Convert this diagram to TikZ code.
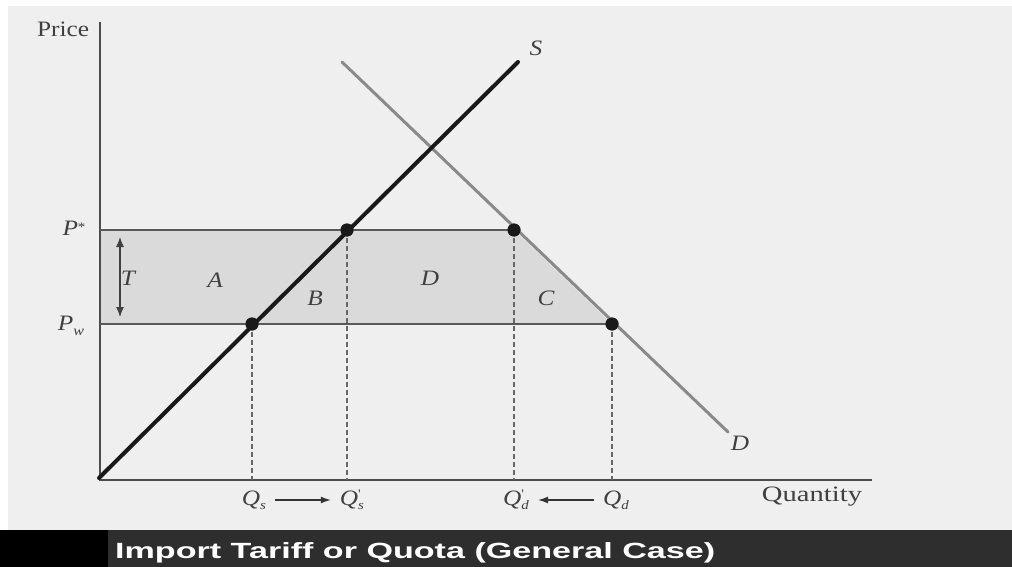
\documentclass[tikz,border=0pt]{standalone}
\usepackage{fontspec}
\setmainfont{Liberation Serif}
\newfontfamily\barfont{Liberation Sans}
\usetikzlibrary{arrows.meta}
\definecolor{bgc}{HTML}{EFEFEF}
\definecolor{shadec}{HTML}{DADADA}
\definecolor{barc}{HTML}{2E2E2E}
\definecolor{demc}{HTML}{8A8A8A}
\newcommand{\wide}[1]{\scalebox{1.15}[1]{#1}}
\newcommand{\subsm}[1]{\raisebox{-4pt}{\fontsize{13}{13}\selectfont #1}}
\newcommand{\primesm}{\rlap{\raisebox{7pt}{\normalfont\fontsize{13}{13}\selectfont\textquotesingle}}}
\tikzset{
  axis/.style={draw=black!70, line width=1.8pt},
  supply/.style={draw=black!90, line width=4pt},
  demand/.style={draw=demc, line width=3pt},
  price/.style={draw=black!65, line width=1.5pt},
  guide/.style={draw=black!60, dash pattern=on 5pt off 3pt, line width=1.4pt},
  dot/.style={circle, fill=black!90, inner sep=0pt, minimum size=13pt},
  lbl/.style={font=\fontsize{22}{22}\selectfont\itshape, text=black!75, inner sep=0pt},
  axlbl/.style={font=\fontsize{22}{22}\selectfont, text=black!75, inner sep=0pt},
  qarrow/.style={draw=black!80, line width=1.3pt, -{Latex[length=10pt,width=7pt]}}
}
\begin{document}
\begin{tikzpicture}[x=1pt,y=-1pt]
\useasboundingbox (0,0) rectangle (1012,567);
\fill[white] (0,0) rectangle (1012,567);
\fill[bgc] (8,6) rectangle (1012,530);
\fill[barc] (0,530) rectangle (1012,567);
\fill[black] (0,530) rectangle (108,567);
% shaded region
\fill[shadec] (100,230) -- (514,230) -- (612,324) -- (100,324) -- cycle;
% axes
\coordinate (ytop) at (100,22);
\coordinate (O) at (100,480);
\coordinate (xend) at (872,480);
\draw[axis] (ytop) -- (O) -- (xend);
% points
\node[dot] (a) at (252,324) {};
\node[dot] (b) at (347,230) {};
\node[dot] (c) at (514,230) {};
\node[dot] (d) at (612,324) {};
% axis foot coordinates
\coordinate (fa) at (252,480);
\coordinate (fb) at (347,480);
\coordinate (fc) at (514,480);
\coordinate (fd) at (612,480);
\coordinate (pstar) at (100,230);
\coordinate (pw) at (100,324);
% price lines
\draw[price] (pstar) -- (c.center);
\draw[price] (pw) -- (d.center);
% dashed guides
\draw[guide] (a.center) -- (fa);
\draw[guide] (b.center) -- (fb);
\draw[guide] (c.center) -- (fc);
\draw[guide] (d.center) -- (fd);
% curves
\coordinate (s0) at (99,478);
\coordinate (s1) at (518,62);
\coordinate (d0) at (342,62);
\coordinate (d1) at (728,432);
\draw[demand, line cap=round] (d0) -- (d1);
\draw[supply, line cap=round] (s0) -- (s1);
\node[dot] at (a) {};
\node[dot] at (b) {};
\node[dot] at (c) {};
\node[dot] at (d) {};
% labels
\node[axlbl] (price) at (63,29) {\wide{Price}};
\node[axlbl] (qty) at (812,497) {\scalebox{1.3}[1]{Quantity}};
\node[lbl] (S) at (536,48) {\wide{S}};
\node[lbl] (D) at (740,443) {\wide{D}};
\node[lbl] (Pst) at (74,228) {\wide{P\raisebox{4pt}{\normalfont\fontsize{13}{13}\selectfont*}}};
\node[lbl] (Pw) at (71,326) {\wide{P\raisebox{-5pt}{\fontsize{14}{14}\selectfont w}}};
\node[lbl] (T) at (128,278) {\wide{T}};
\node[lbl] (A) at (215,280) {\wide{A}};
\node[lbl] (B) at (315,298) {\wide{B}};
\node[lbl] (DD) at (430,278) {\wide{D}};
\node[lbl] (C) at (546,298) {\wide{C}};
\coordinate (tA) at (120,237);
\coordinate (tB) at (120,317);
\draw[draw=black!75, line width=1.2pt, {Latex[length=10pt,width=8pt]}-{Latex[length=10pt,width=8pt]}] (tA) -- (tB);
\node[lbl] (Qs) at (254,500) {\wide{Q\subsm{s}}};
\node[lbl] (Qsp) at (352,500) {\wide{Q\primesm\subsm{s}}};
\node[lbl] (Qdp) at (516,500) {\wide{Q\primesm\subsm{d}}};
\node[lbl] (Qd) at (616,500) {\wide{Q\subsm{d}}};
\draw[qarrow] ([xshift=9pt]Qs.east) -- ([xshift=-9pt]Qsp.west);
\draw[qarrow] ([xshift=-9pt]Qd.west) -- ([xshift=9pt]Qdp.east);
% bar text
\node[anchor=base west, text=white, inner sep=0pt, font=\barfont\bfseries\fontsize{22}{22}\selectfont] (title) at (115,558) {\scalebox{1.55}[1]{Import Tariff or Quota (General Case)}};
\end{tikzpicture}
\end{document}
